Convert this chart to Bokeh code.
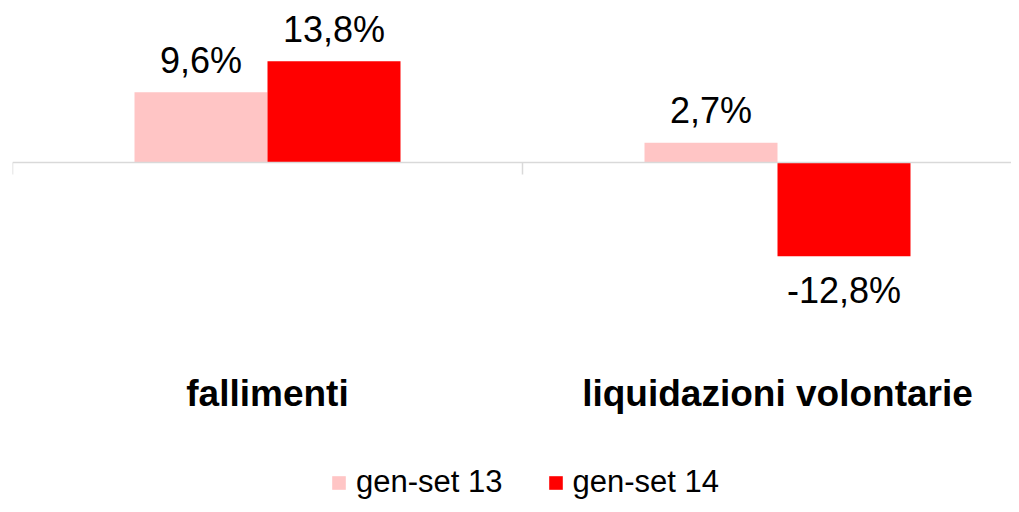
import numpy as np
from bokeh.plotting import figure
from bokeh.models import Range1d, Legend, LegendItem, Span
from bokeh.core.properties import value
from bokeh.embed import file_html
from bokeh.resources import INLINE

# ---- data ----
categories = ["fallimenti", "liquidazioni volontarie"]
series_names = ["gen-set 13", "gen-set 14"]
gen_set_13 = [9.6, 2.7]
gen_set_14 = [13.8, -12.8]
series_colors = ["#FFC5C5", "#FF0000"]

def fmt(v):
    return f"{v:.1f}".replace(".", ",") + "%"

# ---- layout constants (pixels) ----
W, H = 1011, 504
LEFT = 12
CAT_PX = 510.0          # pixel width of one category
Y_PX = 7.33             # pixels per percentage point
ZERO_PX = 162.0         # canvas y of the zero line
BAR_W = 133.0 / CAT_PX  # bar width in category units
FONT = value("Liberation Sans")

x_end = (W - LEFT) / CAT_PX
y_end = ZERO_PX / Y_PX
y_start = y_end - H / Y_PX

p = figure(width=W, height=H, output_backend="svg", toolbar_location=None,
           x_range=Range1d(0, x_end), y_range=Range1d(y_start, y_end),
           x_axis_location=None, y_axis_location=None,
           min_border_left=LEFT, min_border_right=0, min_border_top=0,
           min_border_bottom=0)
p.outline_line_color = None
p.xgrid.visible = False
p.ygrid.visible = False
p.background_fill_color = "white"
p.border_fill_color = "white"

xc = np.arange(len(categories)) + 0.5
xs = [xc - BAR_W / 2, xc + BAR_W / 2]
vals = [gen_set_13, gen_set_14]

renderers = []
for xi, v, c in zip(xs, vals, series_colors):
    r = p.vbar(x=xi, top=v, bottom=0, width=BAR_W, fill_color=c, line_color=None)
    renderers.append(r)

# zero line with category ticks
p.add_layout(Span(location=0, dimension="width", line_color="#D9D9D9", line_width=1.5))
tick_x = np.arange(len(categories) + 1)
p.segment(x0=tick_x, x1=tick_x, y0=0, y1=-12 / Y_PX, line_color="#D9D9D9", line_width=1.5)

# value labels
for xi, v in zip(xs, vals):
    offs = [-32 if a >= 0 else 34 for a in v]
    p.text(x=xi, y=v, text=[fmt(a) for a in v], y_offset=offs,
           text_align="center", text_baseline="alphabetic",
           text_font=FONT, text_font_size="36px", text_color="black")

# category labels
p.text(x=xc, y=[0] * len(categories), text=categories, y_offset=231,
       text_align="center", text_baseline="alphabetic",
       text_font=FONT, text_font_size="37px", text_font_style="bold",
       text_color="black")

legend = Legend(items=[LegendItem(label=n, renderers=[r]) for n, r in zip(series_names, renderers)],
                orientation="horizontal", location=(318, 4),
                glyph_width=17, glyph_height=17, label_standoff=9, spacing=44,
                padding=0, margin=0, border_line_alpha=0, background_fill_alpha=0,
                label_text_font="Liberation Sans", label_text_font_size="31px",
                label_text_color="black", label_height=17)
p.add_layout(legend)

open("out.html", "w").write(file_html(p, INLINE))
